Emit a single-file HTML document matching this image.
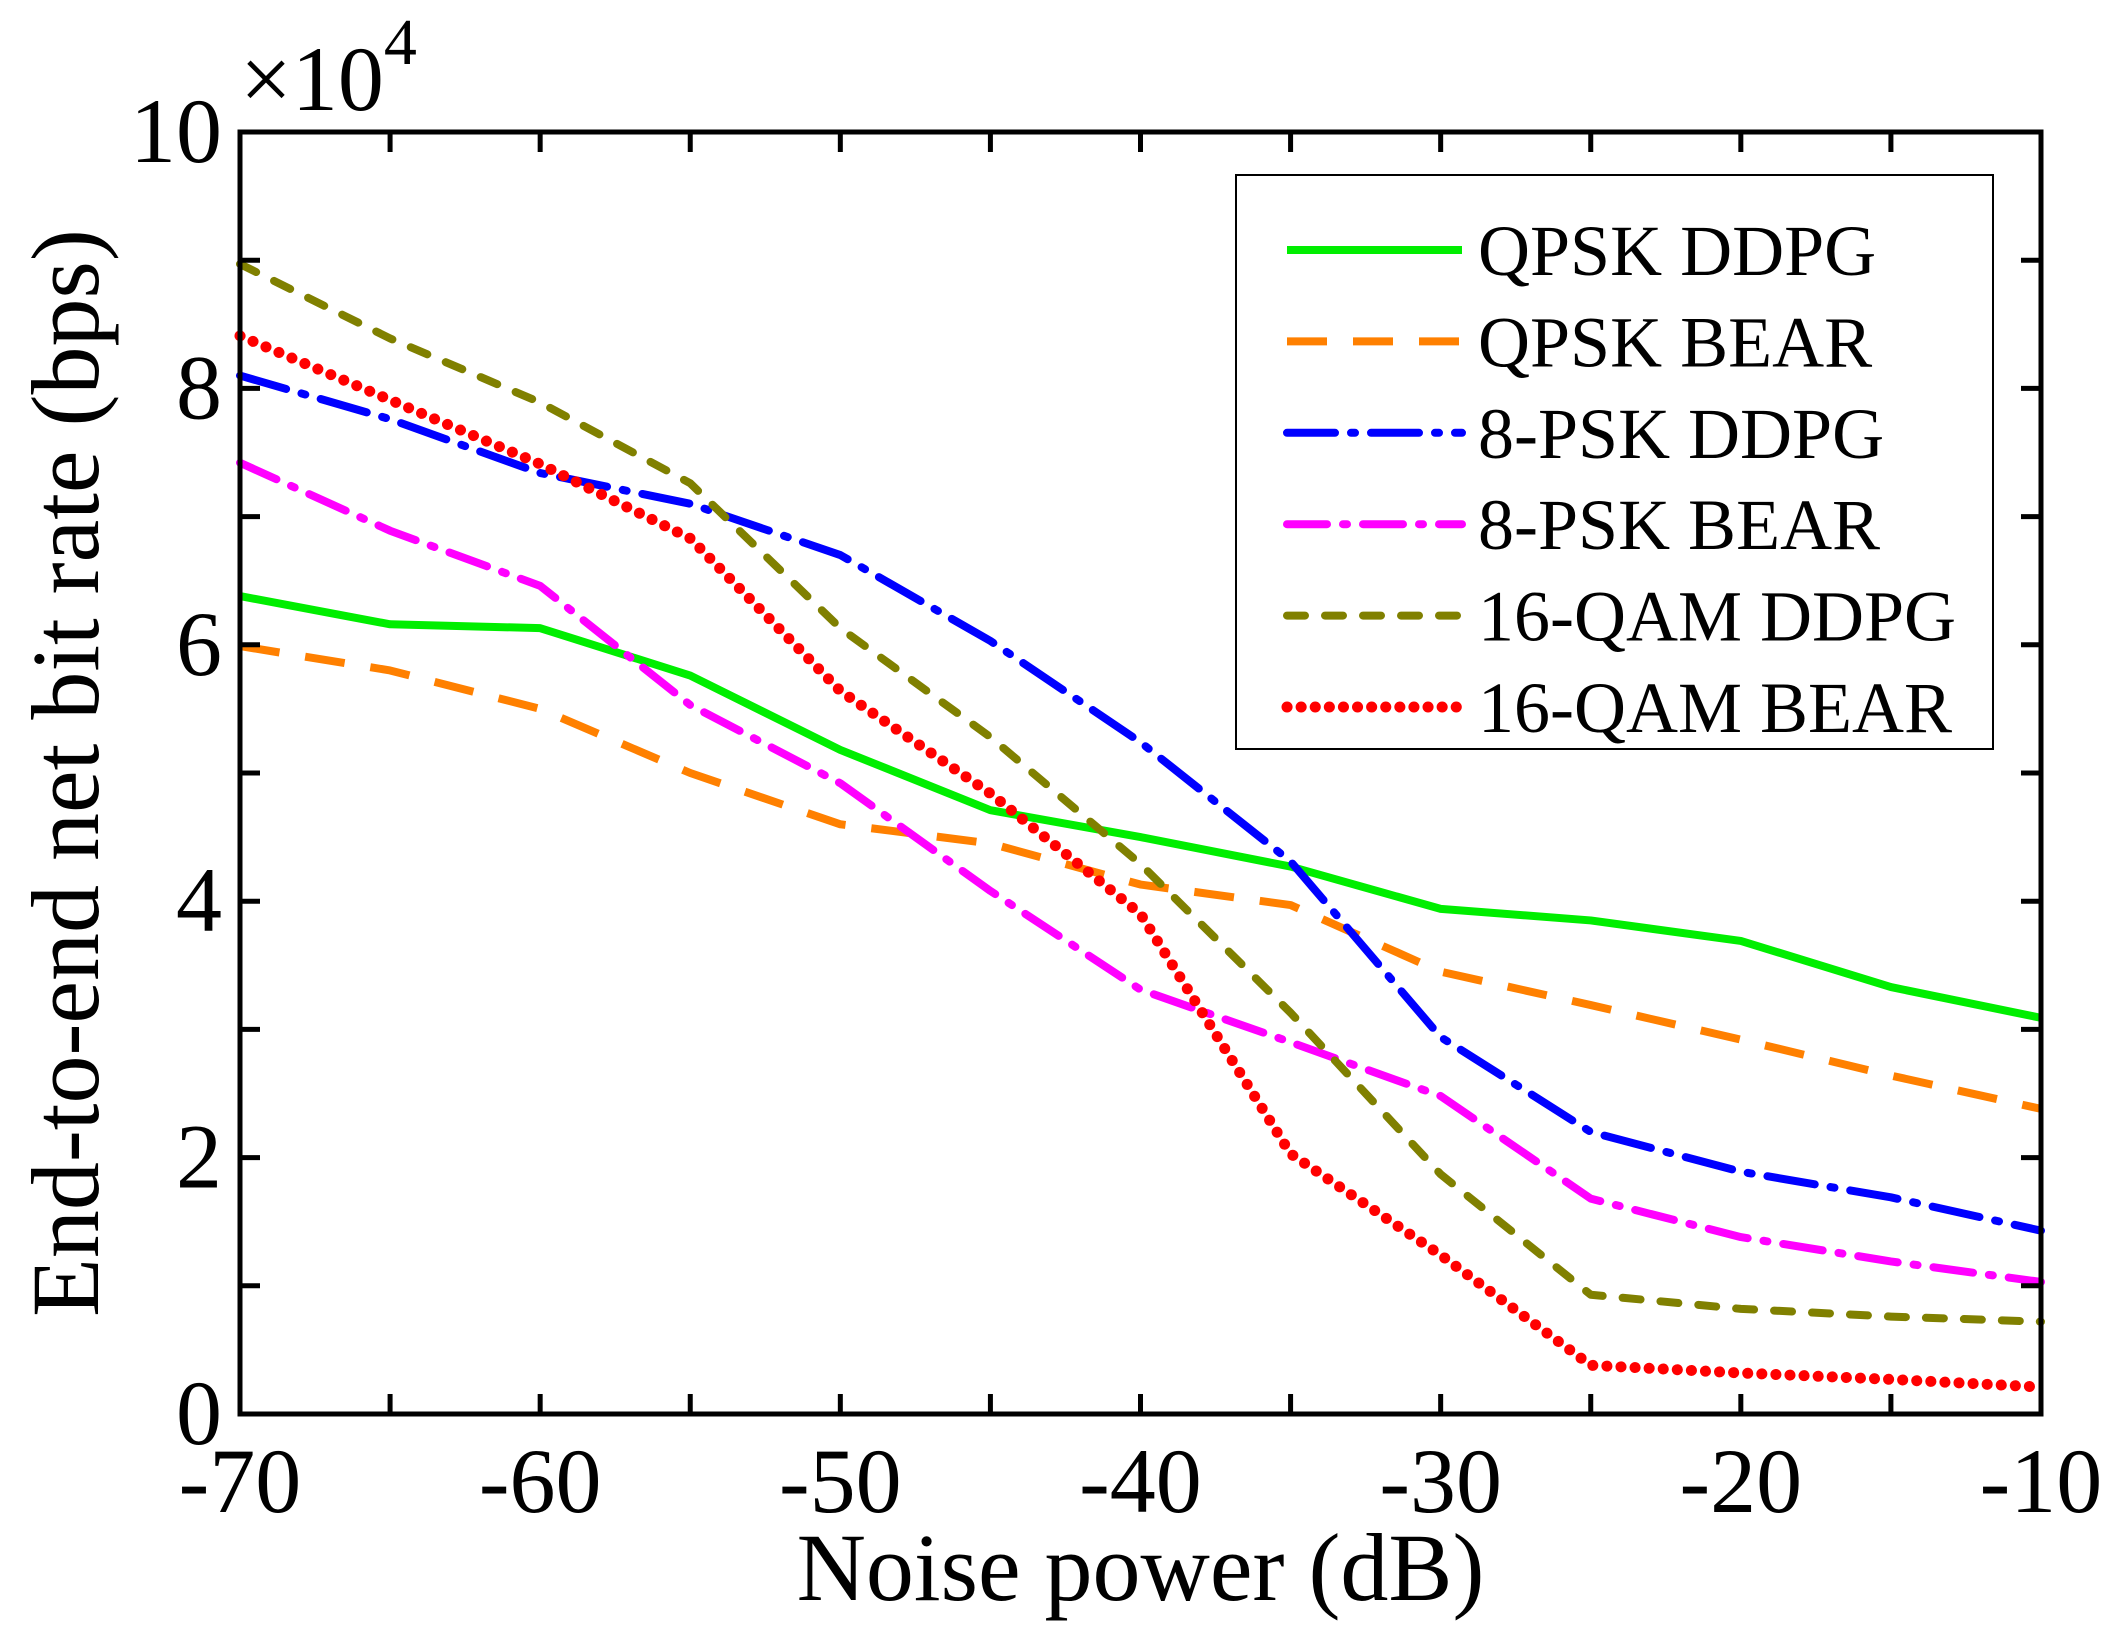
<!DOCTYPE html>
<html><head><meta charset="utf-8"><style>
html,body{margin:0;padding:0;background:#fff}
svg text{font-family:"Liberation Serif",serif;fill:#000}
</style></head><body>
<svg id="chart" width="2116" height="1640" viewBox="0 0 2116 1640" xmlns="http://www.w3.org/2000/svg">
<g id="marks"></g>
<g id="axes"></g>
</svg>
<script>
const xVals=[-70,-65,-60,-55,-50,-45,-40,-35,-30,-25,-20,-15,-10];
const qpskDdpg=[6.38,6.16,6.13,5.76,5.18,4.71,4.5,4.27,3.94,3.85,3.69,3.33,3.09];
const qpskBear=[5.99,5.8,5.5,5.0,4.6,4.45,4.13,3.97,3.45,3.19,2.92,2.64,2.38];
const psk8Ddpg=[8.1,7.76,7.34,7.1,6.7,6.03,5.24,4.31,2.94,2.2,1.89,1.69,1.43];
const psk8Bear=[7.42,6.89,6.46,5.53,4.92,4.08,3.31,2.9,2.48,1.68,1.38,1.19,1.03];
const qam16Ddpg=[8.97,8.39,7.89,7.26,6.13,5.28,4.29,3.13,1.87,0.93,0.82,0.76,0.72];
const qam16Bear=[8.41,7.91,7.41,6.83,5.64,4.84,3.9,2.03,1.24,0.38,0.32,0.27,0.21];
const xTickLabels=["-70","-60","-50","-40","-30","-20","-10"];
const yTickLabels=["0","2","4","6","8","10"];
const seriesNames=["QPSK DDPG","QPSK BEAR","8-PSK DDPG","8-PSK BEAR","16-QAM DDPG","16-QAM BEAR"];

const L=240,R=2041,T=132,B=1414;
const X=v=>L+(v+70)/60*(R-L);
const Y=v=>B-v/10*(B-T);
const NS="http://www.w3.org/2000/svg";
function mk(tag,attrs,parent){const e=document.createElementNS(NS,tag);for(const k in attrs)e.setAttribute(k,attrs[k]);parent.appendChild(e);return e;}
const marks=document.getElementById('marks'),axes=document.getElementById('axes');
const styles=[
 {c:"#00ee00",d:"none",cap:"butt"},
 {c:"#ff8000",d:"40 26",cap:"butt"},
 {c:"#0000ff",d:"48 16 4 16",cap:"round"},
 {c:"#ff00ff",d:"40 16 4 16",cap:"round"},
 {c:"#808000",d:"18 20",cap:"round"},
 {c:"#ff0000",d:"0.1 14",cap:"round"}];
const series=[qpskDdpg,qpskBear,psk8Ddpg,psk8Bear,qam16Ddpg,qam16Bear];
const slugs=["qpsk-ddpg","qpsk-bear","8psk-ddpg","8psk-bear","16qam-ddpg","16qam-bear"];
series.forEach((s,i)=>{
 const st=styles[i];
 const p=mk('polyline',{points:s.map((v,j)=>X(xVals[j])+','+Y(v)).join(' '),fill:'none',stroke:st.c,'stroke-width':i==5?11:8,'stroke-dasharray':st.d,'stroke-linecap':st.cap,'stroke-linejoin':'round'},marks);
 
 
});
const fr=mk('rect',{x:L,y:T,width:R-L,height:B-T,fill:'none',stroke:'#000','stroke-width':5},axes);


for(let v=-70;v<=-10;v+=5){
 const x=X(v);
 mk('line',{x1:x,y1:B,x2:x,y2:B-20,stroke:'#000','stroke-width':5},axes);
 mk('line',{x1:x,y1:T,x2:x,y2:T+20,stroke:'#000','stroke-width':5},axes);
}
for(let v=0;v<=10;v+=1){
 const y=Y(v);
 mk('line',{x1:L,y1:y,x2:L+20,y2:y,stroke:'#000','stroke-width':5},axes);
 mk('line',{x1:R,y1:y,x2:R-20,y2:y,stroke:'#000','stroke-width':5},axes);
}
xTickLabels.forEach((t,i)=>{
 const e=mk('text',{x:X(-70+i*10),y:B+98,'text-anchor':'middle','font-size':92},axes);
 e.textContent=t;
 
 
});
yTickLabels.forEach((t,i)=>{
 const e=mk('text',{x:L-18,y:Y(i*2)+30,'text-anchor':'end','font-size':92},axes);
 e.textContent=t;
 
 
});
const xt=mk('text',{x:(L+R)/2,y:1600,'text-anchor':'middle','font-size':96},axes);
xt.textContent="Noise power (dB)";


const yt=mk('text',{x:0,y:0,'text-anchor':'middle','font-size':96,transform:'translate(98,'+((T+B)/2)+') rotate(-90)'},axes);
yt.textContent="End-to-end net bit rate (bps)";


const mult=mk('text',{x:240,y:110,'font-size':92},axes);
mult.innerHTML='×10<tspan dy="-46" font-size="66">4</tspan>';


const lg=mk('g',{},axes);


mk('rect',{x:1236,y:175,width:757,height:574,fill:'#fff',stroke:'#000','stroke-width':2},lg);
seriesNames.forEach((n,i)=>{
 const y=250+i*91.4,st=styles[i];
 const l=mk('line',{x1:1287,y1:y,x2:1462,y2:y,stroke:st.c,'stroke-width':i==5?11:8,'stroke-dasharray':st.d,'stroke-linecap':st.cap},lg);
 
 
 const t=mk('text',{x:1478,y:y+25,'font-size':72},lg);
 t.textContent=n;
 
 
});
</script>
</body></html>
